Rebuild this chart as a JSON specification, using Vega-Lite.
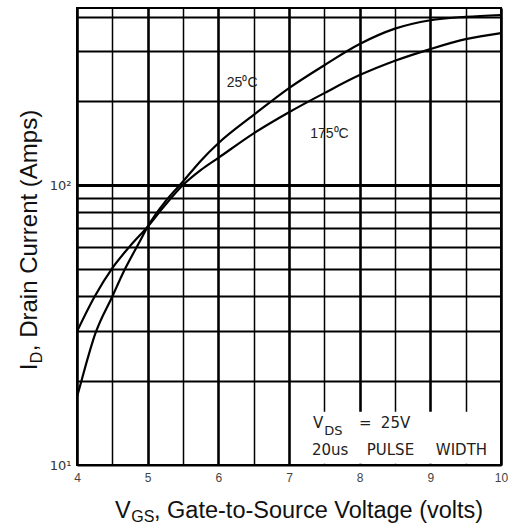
{
  "$schema": "https://vega.github.io/schema/vega-lite/v6.json",
  "width": 424,
  "height": 457,
  "autosize": {"type": "none"},
  "padding": {"left": 77, "top": 8, "right": 7, "bottom": 62},
  "background": "white",
  "config": {"view": {"stroke": "black", "strokeWidth": 2}, "font": "Liberation Sans"},
  "datasets": {
    "curves": [
      {"temp": "25C", "vgs": 4.0, "id": 17.5},
      {"temp": "25C", "vgs": 4.07, "id": 20.3},
      {"temp": "25C", "vgs": 4.26, "id": 29.5},
      {"temp": "25C", "vgs": 4.5, "id": 40},
      {"temp": "25C", "vgs": 4.66, "id": 49},
      {"temp": "25C", "vgs": 4.89, "id": 63},
      {"temp": "25C", "vgs": 5.0, "id": 71},
      {"temp": "25C", "vgs": 5.26, "id": 88},
      {"temp": "25C", "vgs": 5.5, "id": 103},
      {"temp": "25C", "vgs": 5.75, "id": 122},
      {"temp": "25C", "vgs": 6.0, "id": 141},
      {"temp": "25C", "vgs": 6.5, "id": 178},
      {"temp": "25C", "vgs": 7.0, "id": 222},
      {"temp": "25C", "vgs": 7.5, "id": 268},
      {"temp": "25C", "vgs": 8.0, "id": 319},
      {"temp": "25C", "vgs": 8.5, "id": 362},
      {"temp": "25C", "vgs": 9.0, "id": 388},
      {"temp": "25C", "vgs": 9.5, "id": 399},
      {"temp": "25C", "vgs": 10.0, "id": 405},
      {"temp": "175C", "vgs": 4.0, "id": 30},
      {"temp": "175C", "vgs": 4.25, "id": 40},
      {"temp": "175C", "vgs": 4.5, "id": 50.5},
      {"temp": "175C", "vgs": 4.75, "id": 60.5},
      {"temp": "175C", "vgs": 5.0, "id": 71},
      {"temp": "175C", "vgs": 5.25, "id": 85},
      {"temp": "175C", "vgs": 5.5, "id": 100},
      {"temp": "175C", "vgs": 5.75, "id": 113},
      {"temp": "175C", "vgs": 6.0, "id": 125},
      {"temp": "175C", "vgs": 6.5, "id": 153},
      {"temp": "175C", "vgs": 7.0, "id": 182},
      {"temp": "175C", "vgs": 7.5, "id": 213},
      {"temp": "175C", "vgs": 8.0, "id": 247},
      {"temp": "175C", "vgs": 8.5, "id": 278},
      {"temp": "175C", "vgs": 9.0, "id": 306},
      {"temp": "175C", "vgs": 9.5, "id": 332},
      {"temp": "175C", "vgs": 10.0, "id": 349}
    ],
    "box": [{"vgs": 7.04, "vgs2": 9.985, "id": 10.1, "id2": 15.5}],
    "ann": [
      {"vgs": 7.34, "id": 13.55, "t": "V"},
      {"vgs": 7.99, "id": 13.55, "t": "="},
      {"vgs": 8.30, "id": 13.55, "t": "25V"},
      {"vgs": 7.324, "id": 10.86, "t": "20us"},
      {"vgs": 8.10, "id": 10.86, "t": "PULSE"},
      {"vgs": 9.078, "id": 10.86, "t": "WIDTH"}
    ],
    "annsub": [
      {"vgs": 7.50, "id": 12.8, "t": "DS"}
    ],
    "curvelab": [
      {"vgs": 6.12, "id": 224, "t": "25⁰C"},
      {"vgs": 7.30, "id": 147, "t": "175⁰C"}
    ],
    "xtitle": [
      {"vgs": 4.537, "id": 6.47, "t": "V"},
      {"vgs": 5.09, "id": 6.47, "t": ", Gate-to-Source Voltage (volts)"}
    ],
    "xtitlesub": [
      {"vgs": 4.768, "id": 6.26, "t": "GS"}
    ],
    "ytitle": [
      {"vgs": 3.434, "id": 21.8, "t": "I"},
      {"vgs": 3.434, "id": 25.5, "t": ", Drain Current (Amps)"}
    ],
    "ytitlesub": [
      {"vgs": 3.505, "id": 23.1, "t": "D"}
    ]
  },
  "encoding": {
    "x": {
      "field": "vgs",
      "type": "quantitative",
      "scale": {"domain": [4, 10], "nice": false, "zero": false},
      "axis": {
        "values": [4, 4.5, 5, 5.5, 6, 6.5, 7, 7.5, 8, 8.5, 9, 9.5, 10],
        "grid": true,
        "gridColor": "black",
        "gridOpacity": 1,
        "gridWidth": {"condition": {"test": "datum.value % 1 === 0", "value": 2.6}, "value": 1.5},
        "domain": false,
        "ticks": false,
        "labelFlush": false,
        "labelExpr": "datum.value % 1 === 0 ? '' + datum.value : ''",
        "labelFont": "Liberation Sans",
        "labelFontSize": 12,
        "labelColor": "#444",
        "labelPadding": 7,
        "title": null
      }
    },
    "y": {
      "field": "id",
      "type": "quantitative",
      "scale": {"type": "log", "domain": [10, 429], "nice": false},
      "axis": {
        "values": [10, 20, 30, 40, 50, 60, 70, 80, 90, 100, 200, 300, 400],
        "grid": true,
        "gridColor": "black",
        "gridOpacity": 1,
        "gridWidth": {"condition": {"test": "datum.value === 100", "value": 3}, "value": 2},
        "domain": false,
        "ticks": false,
        "labelFlush": false,
        "labelExpr": "datum.value === 10 ? '10¹' : datum.value === 100 ? '10²' : ''",
        "labelFont": "DejaVu Sans",
        "labelFontSize": 13,
        "labelColor": "#333",
        "labelPadding": 6,
        "title": null
      }
    }
  },
  "layer": [
    {
      "data": {"name": "box"},
      "mark": {"type": "rect", "fill": "white", "stroke": null},
      "encoding": {"x2": {"field": "vgs2"}, "y2": {"field": "id2"}}
    },
    {
      "data": {"name": "curves"},
      "mark": {"type": "line", "interpolate": "monotone", "color": "black", "strokeWidth": 2.2},
      "encoding": {"detail": {"field": "temp", "type": "nominal"}}
    },
    {
      "data": {"name": "ann"},
      "mark": {"type": "text", "align": "left", "baseline": "alphabetic", "font": "DejaVu Sans", "fontSize": 15, "color": "#222"},
      "encoding": {"text": {"field": "t"}}
    },
    {
      "data": {"name": "annsub"},
      "mark": {"type": "text", "align": "left", "baseline": "alphabetic", "font": "DejaVu Sans", "fontSize": 13, "color": "#222"},
      "encoding": {"text": {"field": "t"}}
    },
    {
      "data": {"name": "curvelab"},
      "mark": {"type": "text", "align": "left", "baseline": "alphabetic", "font": "Liberation Sans", "fontSize": 14, "color": "#222"},
      "encoding": {"text": {"field": "t"}}
    },
    {
      "data": {"name": "xtitle"},
      "mark": {"type": "text", "align": "left", "baseline": "alphabetic", "font": "Liberation Sans", "fontSize": 23.5, "color": "#111"},
      "encoding": {"text": {"field": "t"}}
    },
    {
      "data": {"name": "xtitlesub"},
      "mark": {"type": "text", "align": "left", "baseline": "alphabetic", "font": "Liberation Sans", "fontSize": 16, "color": "#111"},
      "encoding": {"text": {"field": "t"}}
    },
    {
      "data": {"name": "ytitle"},
      "mark": {"type": "text", "align": "left", "baseline": "alphabetic", "angle": 270, "font": "Liberation Sans", "fontSize": 24, "color": "#111"},
      "encoding": {"text": {"field": "t"}}
    },
    {
      "data": {"name": "ytitlesub"},
      "mark": {"type": "text", "align": "left", "baseline": "alphabetic", "angle": 270, "font": "Liberation Sans", "fontSize": 16, "color": "#111"},
      "encoding": {"text": {"field": "t"}}
    }
  ]
}
